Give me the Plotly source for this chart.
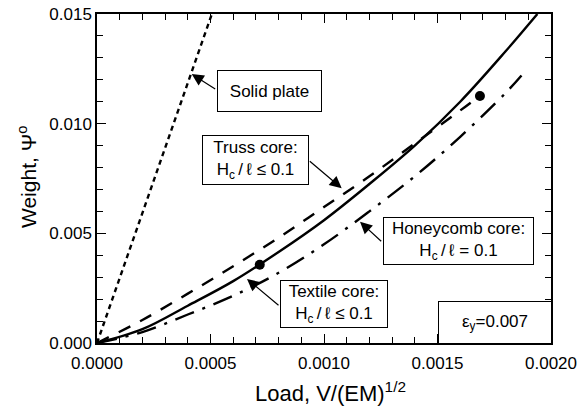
import plotly.graph_objects as go

# ---------------- data ----------------
solid_plate_load = [0.0, 0.000506]
solid_plate_weight = [0.0, 0.015]

truss_load = [0.0, 0.0002, 0.0004, 0.0006, 0.0008, 0.0010, 0.0012, 0.0014, 0.0016, 0.00169]
truss_weight = [0.0, 0.00105, 0.00225, 0.0035, 0.0048, 0.0062, 0.0076, 0.0091, 0.0106, 0.0113]

textile_load = [0.0, 0.0002, 0.0004, 0.0006, 0.0008, 0.0010, 0.0012, 0.0014, 0.0016, 0.0018, 0.00194]
textile_weight = [0.0, 0.00063, 0.00170, 0.00282, 0.00415, 0.0056, 0.00725, 0.0090, 0.0110, 0.0133, 0.0150]

honeycomb_load = [0.0, 0.0002, 0.0004, 0.0006, 0.0008, 0.0010, 0.0012, 0.0014, 0.0016, 0.0018, 0.00187]
honeycomb_weight = [0.0, 0.00050, 0.00130, 0.00215, 0.0032, 0.0045, 0.0060, 0.0076, 0.0094, 0.0114, 0.0122]

point_load = [0.000717, 0.001687]
point_weight = [0.00357, 0.01126]

x_range = [0.0, 0.002]
y_range = [0.0, 0.015]

# ---------------- layout geometry ----------------
W, H = 580, 406
L, R, T, B = 97, 551, 14, 343  # plot area in pixels

def dx(px):
    return x_range[0] + (px - L) / (R - L) * (x_range[1] - x_range[0])

def dy(py):
    return y_range[0] + (B - py) / (B - T) * (y_range[1] - y_range[0])

def px_paper(px):
    return (px - L) / (R - L)

def py_paper(py):
    return (B - py) / (B - T)

FONT = "Liberation Sans, Arial, Helvetica, sans-serif"
LW = 2.4

fig = go.Figure()

fig.add_trace(go.Scatter(x=solid_plate_load, y=solid_plate_weight, mode="lines",
                         line=dict(color="black", width=LW, dash="5px,4px"),
                         name="Solid plate", showlegend=False))
fig.add_trace(go.Scatter(x=truss_load, y=truss_weight, mode="lines",
                         line=dict(color="black", width=LW, dash="13px,11px", shape="spline"),
                         name="Truss core", showlegend=False))
fig.add_trace(go.Scatter(x=textile_load, y=textile_weight, mode="lines",
                         line=dict(color="black", width=LW, shape="spline"),
                         name="Textile core", showlegend=False))
fig.add_trace(go.Scatter(x=honeycomb_load, y=honeycomb_weight, mode="lines",
                         line=dict(color="black", width=LW, dash="20px,9px,3px,9px", shape="spline"),
                         name="Honeycomb core", showlegend=False))
fig.add_trace(go.Scatter(x=point_load, y=point_weight, mode="markers",
                         marker=dict(color="black", size=10),
                         showlegend=False))

annotations = []

def box(text, cx, cy, w, h):
    annotations.append(dict(
        text=text, x=dx(cx), y=dy(cy), xref="x", yref="y",
        xanchor="center", yanchor="middle", showarrow=False,
        width=w, height=h, align="center",
        bordercolor="black", borderwidth=1, borderpad=0, bgcolor="white",
        font=dict(family=FONT, size=17, color="black")))

def arrow(tail_px, tail_py, head_px, head_py):
    annotations.append(dict(
        text="", x=dx(head_px), y=dy(head_py), xref="x", yref="y",
        ax=dx(tail_px), ay=dy(tail_py), axref="x", ayref="y",
        showarrow=True, arrowhead=2, arrowsize=2.0, arrowwidth=1.2,
        arrowcolor="black"))

box("Solid plate", 269.2, 90.8, 103, 40)
box("Truss core:<br>H<sub>c</sub>\u2009/\u2009\u2113 \u2264 0.1", 255, 160, 105, 48)
box("Honeycomb core:<br>H<sub>c</sub>\u2009/\u2009\u2113 = 0.1", 458, 240.8, 149, 46)
box("Textile core:<br>H<sub>c</sub>\u2009/\u2009\u2113 \u2264 0.1", 334.2, 304.2, 106, 46)
box("\u03b5<sub>y</sub>=0.007", 494.7, 322, 112, 41)

arrow(216.7, 90, 191.7, 74)
arrow(308.3, 160, 341.7, 188.3)
arrow(382.7, 242.7, 360, 221.7)
arrow(280, 306.5, 247, 279)

# axis titles
annotations.append(dict(
    text="Load, V/(EM)<sup>1/2</sup>", xref="paper", yref="paper",
    x=px_paper(330), y=py_paper(392), xanchor="center", yanchor="middle",
    showarrow=False, font=dict(family=FONT, size=22, color="black")))
annotations.append(dict(
    text="Weight, \u03a8<sup>o</sup>", xref="paper", yref="paper",
    x=px_paper(27), y=py_paper(177), xanchor="center", yanchor="middle",
    textangle=-90, showarrow=False, font=dict(family=FONT, size=21, color="black")))

tick_common = dict(
    ticks="inside", ticklen=9, tickwidth=1.2, tickcolor="black",
    showline=True, linecolor="black", linewidth=1.5, mirror="allticks",
    showgrid=False, zeroline=False,
    tickfont=dict(family=FONT, size=17, color="black"),
)

fig.update_layout(
    template="none",
    width=W, height=H,
    margin=dict(l=L, r=W - R, t=T, b=H - B),
    paper_bgcolor="white", plot_bgcolor="white",
    annotations=annotations,
    font=dict(family=FONT, color="black"),
    xaxis=dict(range=x_range, dtick=0.0005, tick0=0, tickformat=".4f",
               ticklabelstandoff=4,
               minor=dict(dtick=0.0001, tick0=0, ticks="inside", ticklen=6, tickwidth=1.2,
                          tickcolor="black", showgrid=False),
               **tick_common),
    yaxis=dict(range=y_range, dtick=0.005, tick0=0, tickformat=".3f",
               minor=dict(dtick=0.001, tick0=0, ticks="inside", ticklen=6, tickwidth=1.2,
                          tickcolor="black", showgrid=False),
               **tick_common),
)

fig.write_html("out.html")
